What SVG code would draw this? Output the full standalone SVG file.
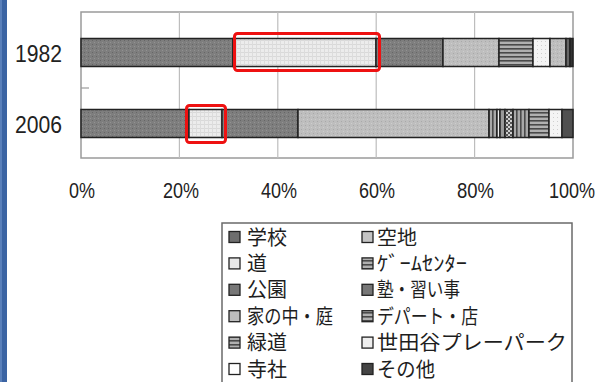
<svg xmlns="http://www.w3.org/2000/svg" width="600" height="382" viewBox="0 0 600 382">
<style>
.num{font-family:"Liberation Sans",Arial,sans-serif;fill:#222}
.lg{font-family:"Noto Sans CJK JP","Noto Sans",sans-serif;font-size:20px;fill:#1e1e1e}
.seg{stroke:#222;stroke-width:1.5}
.grid{stroke:#bdbdbd;stroke-width:1.2}
.hl{fill:none;stroke:#ee1111;stroke-width:3}
.sq{stroke:#222;stroke-width:1.3}
</style>
<defs>
<pattern id="pDark" width="4" height="4" patternUnits="userSpaceOnUse">
<rect width="4" height="4" fill="#7e7e7e"/><rect x="0" y="0" width="1" height="1" fill="#666"/><rect x="2" y="2" width="1" height="1" fill="#929292"/>
</pattern>
<pattern id="pLight" width="4" height="4" patternUnits="userSpaceOnUse">
<rect width="4" height="4" fill="#ececec"/><rect x="0" y="0" width="4" height="1" fill="#d9d9d9"/><rect x="0" y="0" width="1" height="4" fill="#dcdcdc"/>
</pattern>
<pattern id="pMid" width="4" height="4" patternUnits="userSpaceOnUse">
<rect width="4" height="4" fill="#bebebe"/><rect x="1" y="1" width="1" height="1" fill="#a9a9a9"/><rect x="3" y="3" width="1" height="1" fill="#cdcdcd"/>
</pattern>
<pattern id="pH" width="4" height="4" patternUnits="userSpaceOnUse">
<rect width="4" height="4" fill="#b0b0b0"/><rect x="0" y="0" width="4" height="1.6" fill="#4a4a4a"/>
</pattern>
<pattern id="pV" width="4" height="4" patternUnits="userSpaceOnUse">
<rect width="4" height="4" fill="#a8a8a8"/><rect x="0" y="0" width="1.6" height="4" fill="#4a4a4a"/>
</pattern>
<pattern id="pW" width="4" height="4" patternUnits="userSpaceOnUse">
<rect width="4" height="4" fill="#f4f4f4"/><rect x="1" y="1" width="1" height="1" fill="#cfcfcf"/>
</pattern>
<pattern id="pC" width="4" height="4" patternUnits="userSpaceOnUse">
<rect width="4" height="4" fill="#cfcfcf"/><rect x="0" y="0" width="2" height="2" fill="#555"/><rect x="2" y="2" width="2" height="2" fill="#555"/>
</pattern>
</defs>

<rect x="0" y="0" width="600" height="382" fill="#fff"/>
<rect x="0" y="0" width="7" height="382" fill="#3b64a3"/>
<rect x="0" y="0" width="2" height="382" fill="#5a80ba"/>

<g id="plot">
<rect x="81" y="12" width="492" height="146" fill="#fff" stroke="#9a9a9a" stroke-width="1.5"/>
<line class="grid" x1="179.4" y1="12" x2="179.4" y2="158"/>
<line class="grid" x1="277.8" y1="12" x2="277.8" y2="158"/>
<line class="grid" x1="376.2" y1="12" x2="376.2" y2="158"/>
<line class="grid" x1="474.6" y1="12" x2="474.6" y2="158"/>
<line x1="81" y1="88" x2="89" y2="88" stroke="#9a9a9a" stroke-width="1.2"/>
</g>

<g id="bar-1982">
<rect class="seg" x="81" y="38.5" width="152" height="28" fill="url(#pDark)"/>
<rect class="seg" x="233" y="38.5" width="143" height="28" fill="url(#pLight)"/>
<rect class="seg" x="376" y="38.5" width="67" height="28" fill="url(#pDark)"/>
<rect class="seg" x="443" y="38.5" width="56" height="28" fill="url(#pMid)"/>
<rect class="seg" x="499" y="38.5" width="34" height="28" fill="url(#pH)"/>
<rect class="seg" x="533" y="38.5" width="17" height="28" fill="url(#pW)"/>
<rect class="seg" x="550" y="38.5" width="16" height="28" fill="url(#pMid)"/>
<rect class="seg" x="566" y="38.5" width="4" height="28" fill="#666"/>
<rect class="seg" x="570" y="38.5" width="3" height="28" fill="#333"/>
</g>

<g id="bar-2006">
<rect class="seg" x="81" y="109.5" width="108" height="28" fill="url(#pDark)"/>
<rect class="seg" x="189" y="109.5" width="33" height="28" fill="url(#pLight)"/>
<rect class="seg" x="222" y="109.5" width="76" height="28" fill="url(#pDark)"/>
<rect class="seg" x="298" y="109.5" width="191" height="28" fill="url(#pMid)"/>
<rect class="seg" x="489" y="109.5" width="8" height="28" fill="url(#pV)"/>
<rect class="seg" x="497" y="109.5" width="3" height="28" fill="#eee"/>
<rect class="seg" x="500" y="109.5" width="5" height="28" fill="#999"/>
<rect class="seg" x="505" y="109.5" width="8" height="28" fill="url(#pC)"/>
<rect class="seg" x="513" y="109.5" width="16" height="28" fill="url(#pV)"/>
<rect class="seg" x="529" y="109.5" width="20" height="28" fill="url(#pH)"/>
<rect class="seg" x="549" y="109.5" width="13" height="28" fill="url(#pW)"/>
<rect class="seg" x="562" y="109.5" width="11" height="28" fill="#505050"/>
</g>

<g id="highlights">
<rect class="hl" x="234.5" y="33.5" width="145" height="37" rx="3"/>
<rect class="hl" x="186.5" y="105.5" width="39" height="37" rx="3"/>
</g>

<g id="y-labels">
<text class="num" x="15" y="62" font-size="23" textLength="47" lengthAdjust="spacingAndGlyphs">1982</text>
<text class="num" x="15" y="133" font-size="23" textLength="47" lengthAdjust="spacingAndGlyphs">2006</text>
</g>

<g id="x-labels" text-anchor="middle">
<text class="num" x="82" y="198" font-size="22" textLength="26" lengthAdjust="spacingAndGlyphs">0%</text>
<text class="num" x="181" y="198" font-size="22" textLength="36" lengthAdjust="spacingAndGlyphs">20%</text>
<text class="num" x="279" y="198" font-size="22" textLength="36" lengthAdjust="spacingAndGlyphs">40%</text>
<text class="num" x="377" y="198" font-size="22" textLength="36" lengthAdjust="spacingAndGlyphs">60%</text>
<text class="num" x="475.5" y="198" font-size="22" textLength="37" lengthAdjust="spacingAndGlyphs">80%</text>
<text class="num" transform="translate(572,198) scale(0.82,1)" x="0" y="0" font-size="22">100%</text>
</g>

<g id="legend">
<rect x="222" y="223" width="350" height="175" fill="#fff" stroke="#6a6a6a" stroke-width="1.5"/>
<g id="lg-gakkou"><rect class="sq" x="229" y="231.5" width="11" height="11" fill="#6e6e6e"/><text class="lg" x="247" y="244.5">学校</text></g>
<g id="lg-michi"><rect class="sq" x="229" y="257.9" width="11" height="11" fill="#e8e8e8"/><text class="lg" x="247" y="270.9">道</text></g>
<g id="lg-kouen"><rect class="sq" x="229" y="284.3" width="11" height="11" fill="#777"/><text class="lg" x="247" y="297.3">公園</text></g>
<g id="lg-ie"><rect class="sq" x="229" y="310.7" width="11" height="11" fill="#bdbdbd"/><text class="lg" x="247" y="323.7" textLength="86" lengthAdjust="spacingAndGlyphs">家の中・庭</text></g>
<g id="lg-ryokudou"><rect class="sq" x="229" y="337.1" width="11" height="11" fill="url(#pH)"/><text class="lg" x="247" y="350.1">緑道</text></g>
<g id="lg-jisha"><rect class="sq" x="229" y="363.5" width="11" height="11" fill="#fff"/><text class="lg" x="247" y="376.5">寺社</text></g>
<g id="lg-akichi"><rect class="sq" x="362" y="231.5" width="11" height="11" fill="#c4c4c4"/><text class="lg" x="377" y="244.5">空地</text></g>
<g id="lg-game"><rect class="sq" x="362" y="257.9" width="11" height="11" fill="url(#pH)"/><text class="lg" x="377" y="270.9" textLength="90" lengthAdjust="spacingAndGlyphs">ｹﾞｰﾑｾﾝﾀｰ</text></g>
<g id="lg-juku"><rect class="sq" x="362" y="284.3" width="11" height="11" fill="#777"/><text class="lg" x="377" y="297.3" textLength="83" lengthAdjust="spacingAndGlyphs">塾・習い事</text></g>
<g id="lg-depart"><rect class="sq" x="362" y="310.7" width="11" height="11" fill="url(#pH)"/><text class="lg" x="377" y="323.7" textLength="101" lengthAdjust="spacingAndGlyphs">デパート・店</text></g>
<g id="lg-playpark"><rect class="sq" x="362" y="337.1" width="11" height="11" fill="#eee"/><text class="lg" x="377" y="350.1" textLength="190" lengthAdjust="spacingAndGlyphs">世田谷プレーパーク</text></g>
<g id="lg-sonota"><rect class="sq" x="362" y="363.5" width="11" height="11" fill="#444"/><text class="lg" x="377" y="376.5" textLength="58" lengthAdjust="spacingAndGlyphs">その他</text></g>
</g>
</svg>
